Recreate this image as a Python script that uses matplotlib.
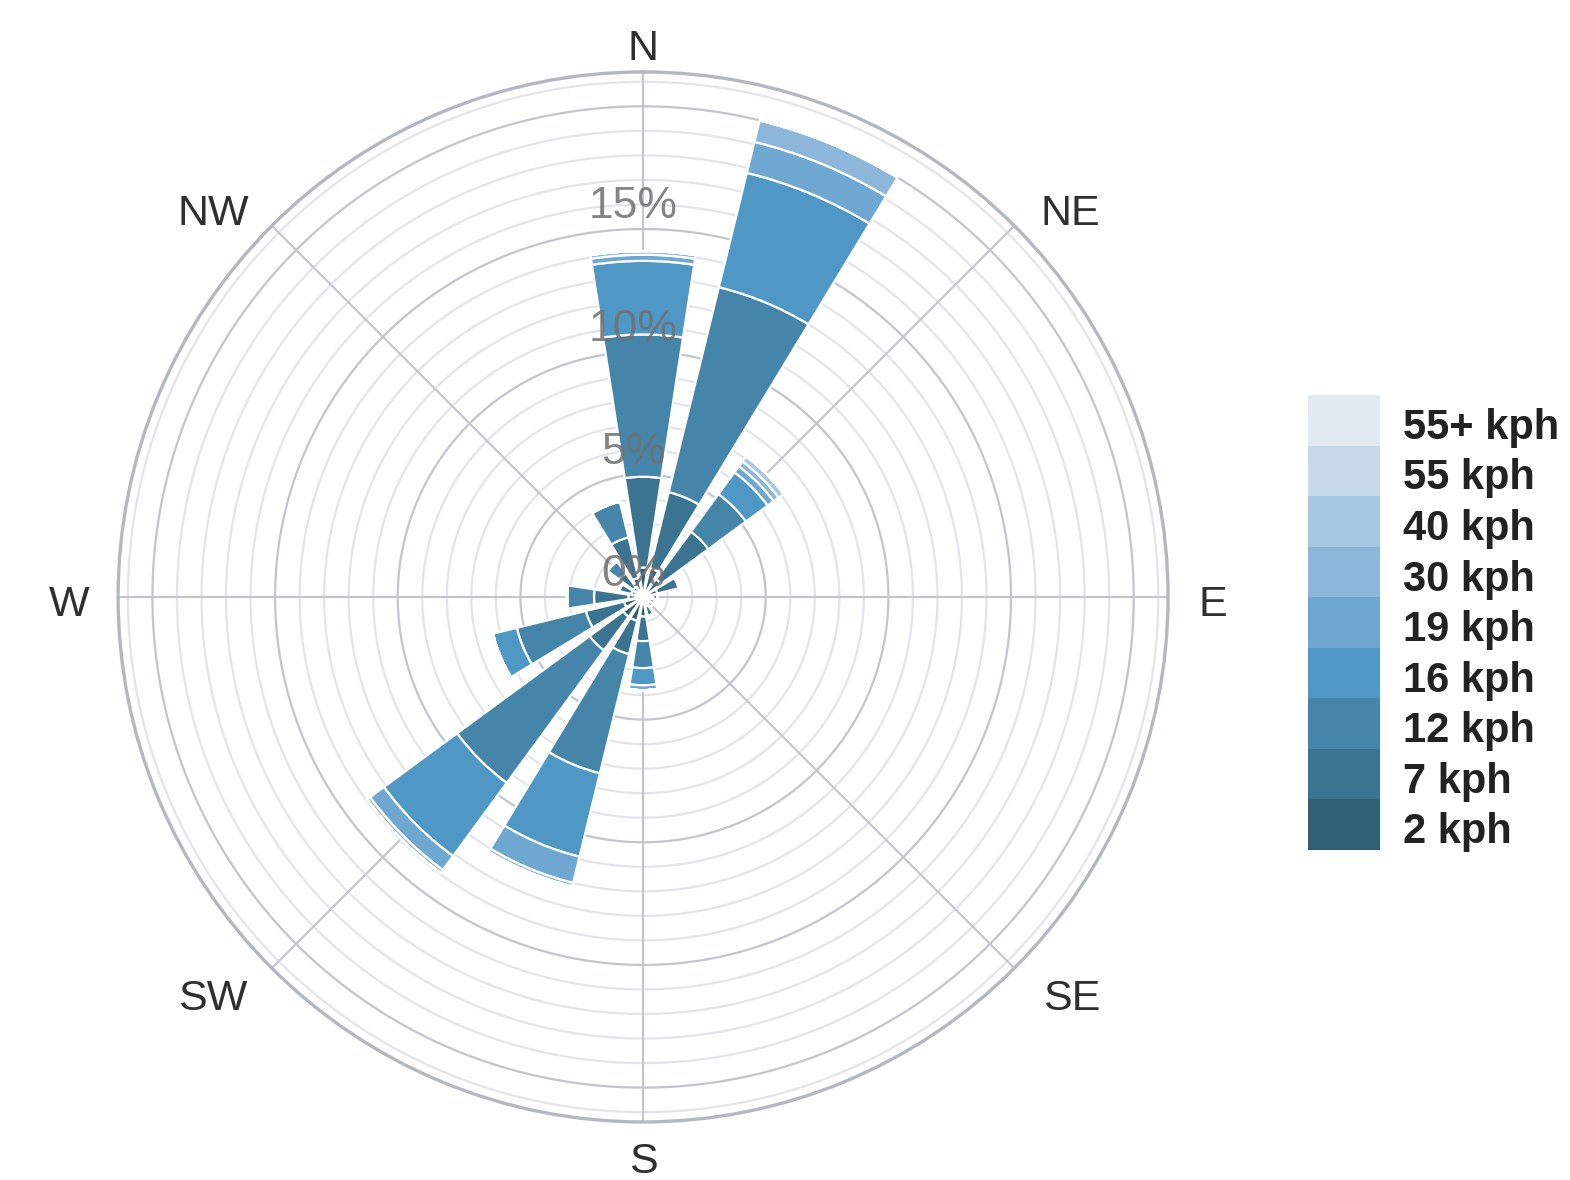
import numpy as np
import matplotlib
matplotlib.use("Agg")
import matplotlib.pyplot as plt

plt.rcParams['font.family'] = ['Liberation Sans', 'DejaVu Sans']

# ---- data -------------------------------------------------------------
directions = ['N', 'NNE', 'NE', 'ENE', 'E', 'ESE', 'SE', 'SSE',
              'S', 'SSW', 'SW', 'WSW', 'W', 'WNW', 'NW', 'NNW']
speed_labels = ['2 kph', '7 kph', '12 kph', '16 kph', '19 kph',
                '30 kph', '40 kph', '55 kph', '55+ kph']
speed_colors = ['#315f73', '#3b7490', '#4585aa', '#4f98c5', '#6ea7cf',
                '#8cb6da', '#a8c7e2', '#c6d9e9', '#e2e9f1']

# frequency (%) per direction for each speed bin
s2   = [1.2, 1.2, 0.9, 0.6, 0.4, 0.3, 0.3, 0.4, 0.8, 1.0, 1.0, 0.8, 0.6, 0.5, 0.5, 0.8]
s7   = [3.7, 3.2, 2.4, 0.9, 0.2, 0.2, 0.2, 0.4, 1.0, 1.4, 1.7, 1.6, 1.4, 0.5, 0.7, 1.7]
s12  = [5.8, 8.6, 1.9, 0.0, 0.0, 0.0, 0.0, 0.0, 1.1, 5.0, 6.7, 2.9, 1.1, 0.0, 0.6, 1.5]
s16  = [3.0, 4.8, 1.1, 0.0, 0.0, 0.0, 0.0, 0.0, 0.7, 3.5, 3.7, 1.0, 0.0, 0.0, 0.0, 0.0]
s19  = [0.25, 1.3, 0.3, 0.0, 0.0, 0.0, 0.0, 0.0, 0.2, 1.1, 0.7, 0.0, 0.0, 0.0, 0.0, 0.0]
s30  = [0.15, 0.9, 0.25, 0.0, 0.0, 0.0, 0.0, 0.0, 0.0, 0.15, 0.15, 0.0, 0.0, 0.0, 0.0, 0.0]
s40  = [0.0, 0.0, 0.25, 0.0, 0.0, 0.0, 0.0, 0.0, 0.0, 0.0, 0.0, 0.0, 0.0, 0.0, 0.0, 0.0]
s55  = [0.0] * 16
s55p = [0.0] * 16
speed_values = [s2, s7, s12, s16, s19, s30, s40, s55, s55p]

radial_ticks = [0, 5, 10, 15]
radial_tick_labels = ['0%', '5%', '10%', '15%']
compass_labels = ['N', 'NE', 'E', 'SE', 'S', 'SW', 'W', 'NW']
r_max = 21.4

# label offsets (pixels) from the outer circle, per compass label
label_dx = [0, 56, 45, 57, 0, -59, -49, -59]
label_dy = [23, 12, -8, -31, -40, -31, -8, 12]

# ---- figure -----------------------------------------------------------
fig = plt.figure(figsize=(15.7, 11.8), dpi=100)
ax = fig.add_axes([0.0752, 0.0492, 0.6688, 0.8898], projection='polar')
ax.set_theta_zero_location('N')
ax.set_theta_direction(-1)
ax.set_ylim(0, r_max)

# grid: circles every 1 %, darker every 5 %
ax.grid(False)
tt = np.linspace(0, 2 * np.pi, 721)
for r in range(1, int(r_max) + 1):
    major = (r % 5 == 0)
    ax.plot(tt, np.full_like(tt, r), color='#c3c5cc' if major else '#e3e4e9',
            lw=1.6, zorder=0.5)
for a in np.deg2rad(np.arange(0, 360, 45)):
    ax.plot([a, a], [0, r_max], color='#c3c5cc', lw=1.5, zorder=0.6)
ax.spines['polar'].set_color('#b3b7bf')
ax.spines['polar'].set_linewidth(2.4)
ax.set_xticks([])
ax.set_yticks([])

# bars
theta = np.deg2rad(np.arange(16) * 22.5)
width = np.deg2rad(17.5)
bottom = np.zeros(16)
for vals, col in zip(speed_values, speed_colors):
    v = np.array(vals)
    ax.bar(theta, v, width=width, bottom=bottom, color=col,
           edgecolor='white', linewidth=1.6, zorder=2)
    bottom += v

# radial labels
for v, lab in zip(radial_ticks, radial_tick_labels):
    ax.annotate(lab, xy=(0, v), xytext=(-10, 22), textcoords='offset pixels',
                ha='center', va='center', fontsize=32, color='#6f6f6f',
                alpha=0.85, zorder=5)

# compass labels
for i, lab in enumerate(compass_labels):
    ang = np.deg2rad(i * 45)
    ax.annotate(lab, xy=(ang, r_max), xytext=(label_dx[i], label_dy[i]),
                textcoords='offset pixels', ha='center', va='center',
                fontsize=31, color='#2f2f2f', annotation_clip=False)

# legend
lax = fig.add_axes([1308 / 1570, 1 - 850 / 1180, 72 / 1570, 455 / 1180])
for i, (lab, col) in enumerate(zip(speed_labels, speed_colors)):
    lax.bar(0, 1, bottom=i, width=1, color=col, linewidth=0)
    lax.text(0.82, i + 0.35, lab, ha='left', va='center', fontsize=30,
             fontweight='bold', color='#222222', clip_on=False)
lax.set_xlim(-0.5, 0.5)
lax.set_ylim(0, len(speed_labels))
lax.axis('off')

fig.savefig('out.png', dpi=100, facecolor='white')
